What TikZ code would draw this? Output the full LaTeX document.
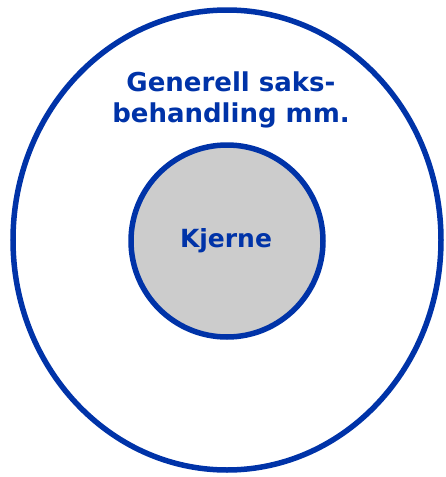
\documentclass[tikz,border=0pt]{standalone}
\usepackage{fontspec}
\setmainfont{DejaVu Sans}
\definecolor{ringblue}{HTML}{0033A8}
\definecolor{coregray}{HTML}{CCCCCC}
\tikzset{
  ring/.style={draw=ringblue, line width=5.5pt},
  lbl/.style={text=ringblue, font=\bfseries\fontsize{26}{31}\selectfont, align=center, inner sep=0pt}
}
\begin{document}
\begin{tikzpicture}[x=1pt,y=-1pt]
\useasboundingbox (0,0) rectangle (445,477);
\draw[ring] (227,240) ellipse [x radius=214, y radius=230];
\node[ring, fill=coregray, circle, minimum size=192pt, inner sep=0pt] (core) at (227,241) {};
\node[lbl] (outer) at (231,100) {Generell saks-\\behandling mm.};
\node[lbl, font=\bfseries\fontsize{25}{30}\selectfont] (kjerne) at (226,241) {Kjerne};
\end{tikzpicture}
\end{document}
